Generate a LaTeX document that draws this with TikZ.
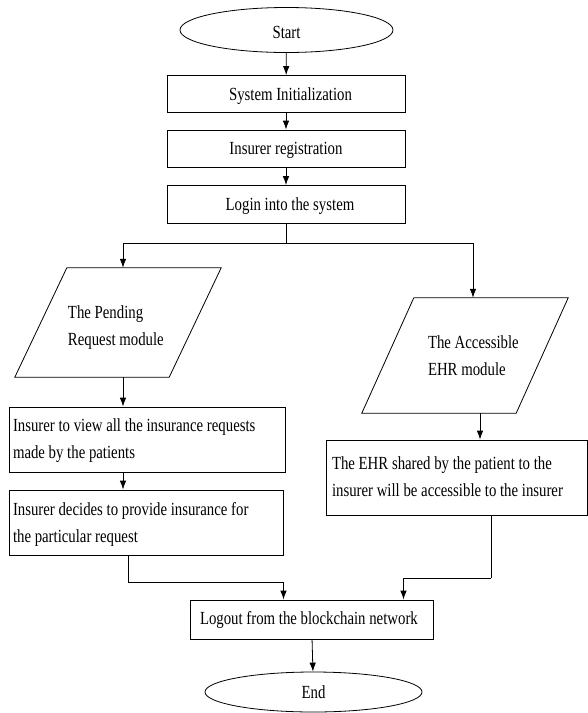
\documentclass[tikz,border=0pt]{standalone}
\usepackage{fontspec}
\setmainfont{Liberation Serif}[FakeStretch=0.8]
\usetikzlibrary{shapes.geometric,arrows.meta}
% left-aligned block of lines with natural word spacing
\newcommand{\lines}[2]{\makebox[#1][l]{\begin{tabular}{@{}l@{}}#2\end{tabular}}}
% move text down without changing the space it takes
\newcommand{\sinktext}[2]{\raisebox{-#1}[\height][\depth]{#2}}
\begin{document}
\begin{tikzpicture}[x=1pt,y=-1pt,
  txt/.style={font=\fontsize{18.5}{27}\selectfont},
  flow/.style={-{Latex[length=9pt,width=6.5pt]}, line width=0.8pt},
  link/.style={line width=0.8pt},
  termbox/.style={draw, ellipse, line width=0.8pt, inner sep=0pt, text depth=0pt, txt},
  procbox/.style={draw, rectangle, line width=0.8pt, inner sep=0pt, txt},
  onebox/.style={procbox, text depth=0pt, minimum width=238pt},
  iobody/.style={rectangle, inner sep=0pt, minimum width=154pt, txt},
  iobox/.style={line width=0.8pt}
]
\useasboundingbox (0,0) rectangle (588,713);

% terminals and single-line steps
\node[termbox, minimum width=213pt, minimum height=45pt] (start) at (286.5,30) {\sinktext{2pt}{Start}};
\node[onebox, minimum height=37pt] (sys) at (286,94) {\hspace{9pt}System Initialization};
\node[onebox, minimum height=37pt] (reg) at (286,148.5) {Insurer registration};
\node[onebox, minimum height=38pt] (login) at (286,204.5) {\hspace{8pt}Login into the system};

% module parallelograms: body node plus slanted outline
\node[iobody, minimum height=109pt] (pend) at (118,322.5)
  {\sinktext{4pt}{\lines{154pt}{\hspace{27pt}The Pending\\\hspace{27pt}Request module}}};
\draw[iobox] ([xshift=-26pt]pend.south west) -- ([xshift=-26pt]pend.south east)
  -- ([xshift=26pt]pend.north east) -- ([xshift=26pt]pend.north west) -- cycle;
\node[iobody, minimum height=115pt] (acc) at (465,355.5)
  {\sinktext{1pt}{\lines{154pt}{\hspace{40pt}The Accessible\\\hspace{40pt}EHR module}}};
\draw[iobox] ([xshift=-26pt]acc.south west) -- ([xshift=-26pt]acc.south east)
  -- ([xshift=26pt]acc.north east) -- ([xshift=26pt]acc.north west) -- cycle;

% left branch steps
\node[procbox, inner xsep=4pt, minimum width=276pt, minimum height=65pt] (req) at (147,439.5)
  {\lines{268pt}{Insurer to view all the insurance requests\\made by the patients}};
\node[procbox, inner xsep=4pt, minimum width=274pt, minimum height=65pt] (dec) at (146,522.5)
  {\sinktext{1.5pt}{\lines{266pt}{Insurer decides to provide insurance for\\the particular request}}};

% right branch step
\node[procbox, inner xsep=6pt, minimum width=261pt, minimum height=75pt] (ehr) at (456.5,477.5)
  {\lines{249pt}{The EHR shared by the patient to the\\insurer will be accessible to the insurer}};

% closing steps
\node[procbox, inner xsep=10pt, minimum width=243pt, minimum height=39pt] (logout) at (311.5,619.5)
  {\lines{223pt}{Logout from the blockchain network}};
\node[termbox, minimum width=217pt, minimum height=40pt] (end) at (313.5,692) {End};

% junction points
\coordinate (split) at (286,243);
\coordinate (ljoin) at (128,582);
\coordinate (rjoin) at (491,578);

% connectors
\draw[flow] (start) -- (sys);
\draw[flow] (sys) -- (reg);
\draw[flow] (reg) -- (login);
\draw[link] (login.south) -- (split);
\draw[flow] (split) -| ([xshift=5pt]pend.north);
\draw[flow] (split) -| ([xshift=8pt]acc.north);
\draw[flow] ([xshift=5pt]pend.south) -- ([xshift=5pt]pend.south |- req.north);
\draw[flow] ([xshift=-24pt]req.south) -- ([xshift=-23pt]dec.north);
\draw[flow] ([xshift=15pt]acc.south) -- ([xshift=15pt]acc.south |- ehr.north);
\draw[link] (dec.south -| ljoin) -- (ljoin);
\draw[flow] (ljoin) -| ([xshift=-28pt]logout.north);
\draw[link] (ehr.south -| rjoin) -- (rjoin);
\draw[flow] (rjoin) -| ([xshift=92pt]logout.north);
\draw[flow] (logout) -- (end);
\end{tikzpicture}
\end{document}
